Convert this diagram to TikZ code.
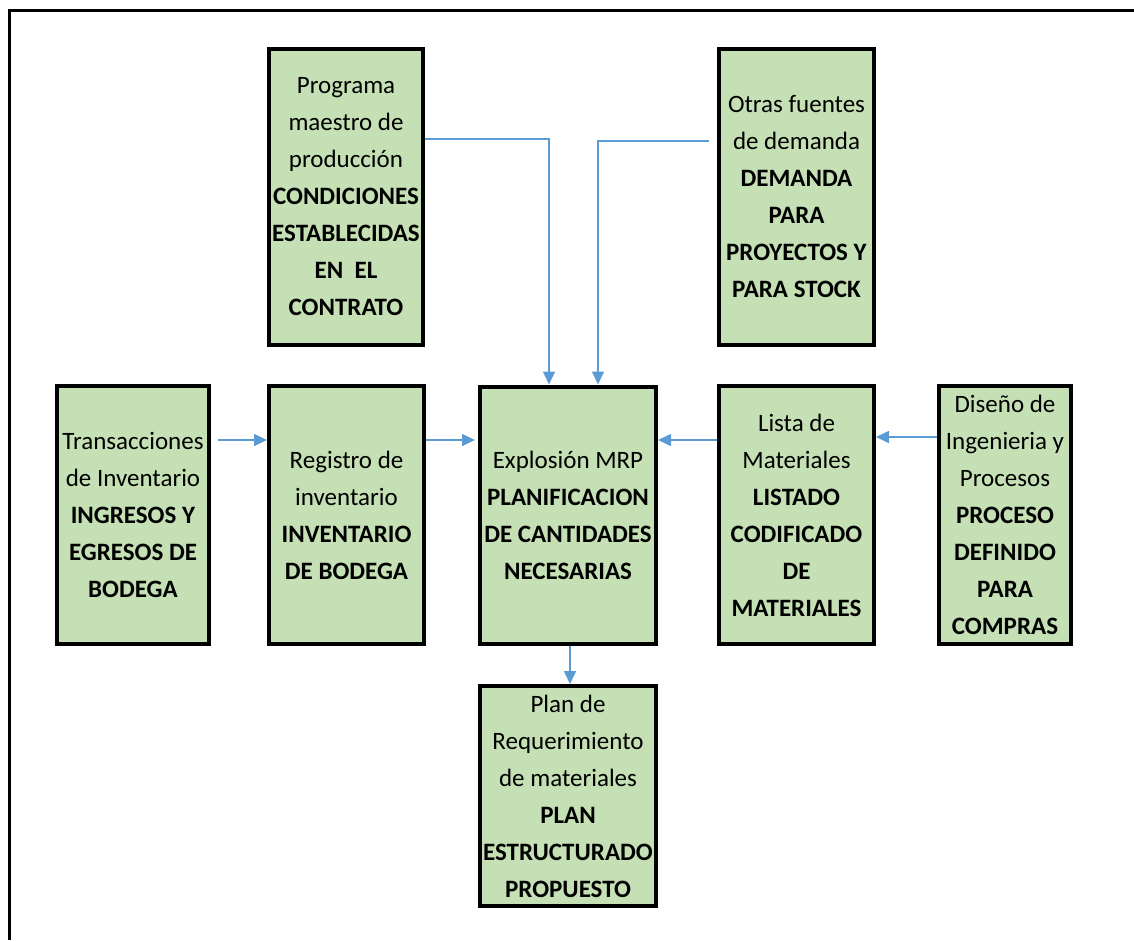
\documentclass[tikz,border=0pt]{standalone}
\usepackage{fontspec}
\setmainfont{Carlito}
\usetikzlibrary{arrows.meta}
\definecolor{paleGreen}{RGB}{197,224,180}
\definecolor{flowBlue}{RGB}{91,155,213}

\begin{document}
\begin{tikzpicture}[x=1pt,y=-1pt,
    box/.style={draw=black, line width=4pt, fill=paleGreen, align=center, inner sep=0pt,
        font=\fontsize{25}{37}\selectfont},
    flow/.style={draw=flowBlue, line width=1.6pt, -{Triangle[length=13pt,width=12pt]}}]
    \useasboundingbox (0,0) rectangle (1134,940);
    \draw[line width=3pt] (9,940) -- (9,10) -- (1134,10);
    \node[box, minimum width=154pt, minimum height=296pt] (prog) at (346,197)
        {Programa\\maestro de\\producción\\\textbf{CONDICIONES}\\\textbf{ESTABLECIDAS}\\\textbf{EN~~EL}\\\textbf{CONTRATO}};
    \node[box, minimum width=155pt, minimum height=296pt] (otras) at (796.5,197)
        {Otras fuentes\\de demanda\\\textbf{DEMANDA}\\\textbf{PARA}\\\textbf{PROYECTOS Y}\\\textbf{PARA STOCK}};
    \node[box, minimum width=152pt, minimum height=258pt] (trans) at (133,515)
        {Transacciones\\de Inventario\\\textbf{INGRESOS Y}\\\textbf{EGRESOS DE}\\\textbf{BODEGA}};
    \node[box, minimum width=155pt, minimum height=258pt] (reg) at (346.5,515)
        {Registro de\\inventario\\\textbf{INVENTARIO}\\\textbf{DE BODEGA}};
    \node[box, minimum width=176pt, minimum height=257pt] (mrp) at (568,515)
        {Explosión MRP\\\textbf{PLANIFICACION}\\\textbf{DE CANTIDADES}\\\textbf{NECESARIAS}};
    \node[box, minimum width=155pt, minimum height=258pt] (lista) at (796.5,515)
        {Lista de\\Materiales\\\textbf{LISTADO}\\\textbf{CODIFICADO}\\\textbf{DE}\\\textbf{MATERIALES}};
    \node[box, minimum width=132pt, minimum height=258pt] (diseno) at (1005,515)
        {Diseño de\\Ingenieria y\\Procesos\\\textbf{PROCESO}\\\textbf{DEFINIDO}\\\textbf{PARA}\\\textbf{COMPRAS}};
    \node[box, minimum width=176pt, minimum height=220pt] (plan) at (568,796)
        {Plan de\\Requerimiento\\de materiales\\\textbf{PLAN}\\\textbf{ESTRUCTURADO}\\\textbf{PROPUESTO}};
    % flujos hacia la explosion MRP
    \draw[flow] ([yshift=58pt]prog.east) -| ([xshift=-19pt]mrp.north);
    \draw[flow] ([xshift=-8pt,yshift=56pt]otras.west) -| ([xshift=30pt]mrp.north);
    \draw[flow] ([xshift=7pt,yshift=75pt]trans.east) -- ([yshift=75pt]reg.west);
    \draw[flow] ([yshift=75pt]reg.east) -- ([xshift=-3pt,yshift=75pt]mrp.west);
    \draw[flow] ([yshift=75pt]lista.west) -- ([yshift=75pt]mrp.east);
    \draw[flow] ([yshift=78pt]diseno.west) -- ([yshift=78pt]lista.east);
    \draw[flow] ([xshift=2pt]mrp.south) -- ([xshift=2pt]plan.north);
\end{tikzpicture}
\end{document}
